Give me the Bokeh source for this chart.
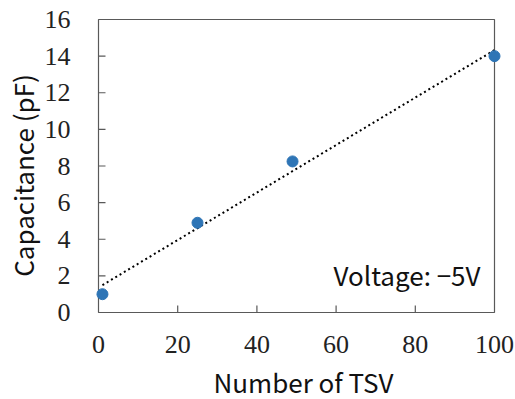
import math
import numpy as np
from bokeh.plotting import figure
from bokeh.models import Range1d
from bokeh.core.properties import value
from bokeh.embed import file_html
from bokeh.resources import INLINE

tsv_count = [1, 25, 49, 100]
capacitance_pf = [1.0, 4.9, 8.25, 14.0]
x_ticks = [0, 20, 40, 60, 80, 100]
y_ticks = [0, 2, 4, 6, 8, 10, 12, 14, 16]
x_title = "Number of TSV"
y_title = "Capacitance (pF)"
annotation = "Voltage: \u22125V"

# layout (pixels)
W, H = 515, 399
PL, PR, PT, PB = 98, 494, 19, 312   # plot box edges on the canvas
xpp = (x_ticks[-1] - x_ticks[0]) / (PR - PL)
ypp = (y_ticks[-1] - y_ticks[0]) / (PB - PT)
def X(px):
    return x_ticks[0] + (px - PL) * xpp
def Y(py):
    return y_ticks[0] + (PB - py) * ypp

slope, intercept = np.polyfit(tsv_count, capacitance_pf, 1)
fit_x = [tsv_count[0], tsv_count[-1]]
fit_y = [slope * v + intercept for v in fit_x]

p = figure(width=W, height=H, output_backend="svg", toolbar_location=None,
           x_range=Range1d(X(0), X(W)), y_range=Range1d(Y(H), Y(0)),
           x_axis_type=None, y_axis_type=None, min_border=0)
p.grid.visible = False
p.outline_line_color = None

axis_col = "#595959"
# plot box
p.quad(left=[x_ticks[0]], right=[x_ticks[-1]], bottom=[y_ticks[0]], top=[y_ticks[-1]],
       fill_color=None, line_color=axis_col, line_width=1.2)
# inward tick marks
inner_x = x_ticks[1:-1]
inner_y = y_ticks[1:-1]
p.segment(x0=inner_x, y0=[y_ticks[0]] * len(inner_x), x1=inner_x,
          y1=[y_ticks[0] + 7 * ypp] * len(inner_x), line_color=axis_col, line_width=1.2)
p.segment(x0=[x_ticks[0]] * len(inner_y), y0=inner_y, x1=[x_ticks[0] + 7 * xpp] * len(inner_y),
          y1=inner_y, line_color=axis_col, line_width=1.2)

# tick labels
p.text(x=x_ticks, y=[Y(PB + 32)] * len(x_ticks), text=[str(t) for t in x_ticks],
       text_align="center", text_baseline="middle", text_font=value("Liberation Serif"),
       text_font_size="26px", text_color="#222222")
p.text(x=[X(PL - 28)] * len(y_ticks), y=y_ticks, text=[str(t) for t in y_ticks],
       text_align="right", text_baseline="middle", text_font=value("Liberation Serif"),
       text_font_size="26px", text_color="#222222")

# axis titles
p.text(x=[X(303)], y=[Y(380.5)], text=[x_title], text_align="center",
       text_baseline="middle", text_font=value("Noto Sans CJK JP"),
       text_font_size="26px", text_color="#111111")
p.text(x=[X(21.5)], y=[Y(175)], text=[y_title], angle=math.pi / 2, text_align="center",
       text_baseline="middle", text_font=value("Noto Sans CJK JP"),
       text_font_size="26px", text_color="#111111")

# data
p.line(fit_x, fit_y, line_color="black", line_width=2, line_dash="2 3")
p.scatter(tsv_count, capacitance_pf, size=11, color="#2E75B6")

p.text(x=[X(480)], y=[Y(273.5)], text=[annotation], text_align="right",
       text_baseline="middle", text_font=value("Noto Sans CJK JP"),
       text_font_size="26px", text_color="#111111")

open("out.html", "w").write(file_html(p, INLINE))
